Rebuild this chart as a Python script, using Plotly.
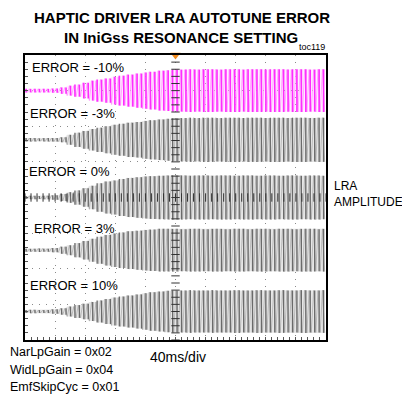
import numpy as np
import plotly.graph_objects as go

# ---------------- data ----------------
# time axis: 0..400 ms (40 ms/div, 10 div); envelope sampled every 10 ms
env_time_ms = list(range(0, 410, 10))
labels = ["ERROR = -10%", "ERROR = -3%", "ERROR = 0%", "ERROR = 3%", "ERROR = 10%"]
centers = [3.0, 1.62, 0.0, -1.48, -3.2]          # trace baselines (divisions)
env_m10 = [0.05, 0.05, 0.05, 0.05, 0.06, 0.09, 0.14, 0.17, 0.22, 0.28, 0.31, 0.34, 0.39, 0.42,
           0.45, 0.48, 0.51, 0.53, 0.56, 0.57, 0.59,
           0.59, 0.60, 0.59, 0.60, 0.60, 0.59, 0.60, 0.60, 0.59, 0.60, 0.60, 0.59, 0.60, 0.60,
           0.59, 0.60, 0.60, 0.59, 0.60, 0.60]
env_m3 = [0.05, 0.05, 0.04, 0.05, 0.05, 0.07, 0.14, 0.20, 0.25, 0.30, 0.34, 0.38, 0.42, 0.45,
          0.48, 0.50, 0.53, 0.55, 0.57, 0.59, 0.60,
          0.61, 0.62, 0.61, 0.62, 0.62, 0.61, 0.62, 0.62, 0.61, 0.62, 0.62, 0.61, 0.62, 0.62,
          0.61, 0.62, 0.62, 0.61, 0.62, 0.62]
env_0 = [0.04, 0.05, 0.04, 0.05, 0.06, 0.10, 0.15, 0.20, 0.26, 0.33, 0.40, 0.45, 0.48, 0.52,
         0.55, 0.57, 0.59, 0.60, 0.61, 0.62, 0.62,
         0.62, 0.61, 0.62, 0.62, 0.61, 0.62, 0.62, 0.61, 0.62, 0.62, 0.61, 0.62, 0.62, 0.61,
         0.62, 0.62, 0.61, 0.62, 0.62, 0.61]
env_p3 = [0.04, 0.04, 0.05, 0.04, 0.06, 0.10, 0.14, 0.20, 0.26, 0.32, 0.38, 0.43, 0.47, 0.50,
          0.53, 0.55, 0.57, 0.58, 0.60, 0.60, 0.60,
          0.59, 0.60, 0.60, 0.59, 0.60, 0.60, 0.59, 0.60, 0.60, 0.59, 0.60, 0.60, 0.59, 0.60,
          0.60, 0.59, 0.60, 0.60, 0.59, 0.60]
env_p10 = [0.04, 0.05, 0.04, 0.04, 0.06, 0.09, 0.14, 0.18, 0.22, 0.27, 0.31, 0.35, 0.39, 0.42,
           0.45, 0.48, 0.51, 0.54, 0.56, 0.58, 0.59,
           0.59, 0.60, 0.59, 0.59, 0.60, 0.59, 0.59, 0.60, 0.59, 0.59, 0.60, 0.59, 0.59, 0.60,
           0.59, 0.59, 0.60, 0.59, 0.59, 0.60]
envelopes = [env_m10, env_m3, env_0, env_p3, env_p10]
bar_colors = ["#ff2cff", "#6a6a6a", "#6a6a6a", "#6a6a6a", "#6a6a6a"]
wave_colors = ["#ff8cff", "#a8a8a8", "#a8a8a8", "#a8a8a8", "#a8a8a8"]
fills = ["rgba(255,200,255,0.30)", "#e6e6e6", "#e6e6e6", "#e6e6e6", "#e6e6e6"]
period_ms = 5.9               # LRA drive period (~170 Hz)
bottom_notes = ["NarLpGain = 0x02", "WidLpGain = 0x04", "EmfSkipCyc = 0x01"]

FONT = "Liberation Sans, Arial, sans-serif"

fig = go.Figure()

for k, (lab, c, env) in enumerate(zip(labels, centers, envelopes)):
    env = np.array(env)
    # half-cycle zigzag (step-held read envelope)
    t = np.arange(0, 400 + 1e-9, period_ms / 2)
    a = env[np.clip(np.round(t / 10).astype(int), 0, len(env) - 1)]
    sign = np.where(np.arange(len(t)) % 2 == 0, 1.0, -1.0)
    fig.add_trace(go.Scatter(x=np.concatenate([t, t[::-1]]),
                             y=np.concatenate([c + a, (c - a)[::-1]]),
                             fill="toself", fillcolor=fills[k], line=dict(width=0),
                             mode="lines", hoverinfo="skip", showlegend=False))
    fig.add_trace(go.Scatter(x=t, y=c + sign * a, mode="lines",
                             line=dict(color=wave_colors[k], width=0.7),
                             hoverinfo="skip", showlegend=False))
    # one vertical bar per cycle
    tb = np.arange(period_ms / 4, 400, period_ms)
    ab = env[np.clip(np.round(tb / 10).astype(int), 0, len(env) - 1)]
    bx = np.column_stack([tb, tb, np.full(len(tb), np.nan)]).ravel()
    by = np.column_stack([c + ab, c - ab, np.full(len(tb), np.nan)]).ravel()
    fig.add_trace(go.Scatter(x=bx, y=by, mode="lines", connectgaps=False,
                             line=dict(color=bar_colors[k], width=1.6 if k == 0 else 1.3),
                             name=lab, showlegend=False))

# center graticule ticks
ys = np.arange(-4, 4.001, 0.2)
fig.add_trace(go.Scatter(x=np.full(len(ys), 200.0), y=ys, mode="markers",
                         marker=dict(symbol="line-ew", size=6, line=dict(width=1, color="#333")),
                         hoverinfo="skip", showlegend=False))
xs = np.arange(0, 400.001, 8)
fig.add_trace(go.Scatter(x=xs, y=np.zeros(len(xs)), mode="markers",
                         marker=dict(symbol="line-ns", size=6, line=dict(width=1, color="#333")),
                         hoverinfo="skip", showlegend=False))
# trigger marker
fig.add_trace(go.Scatter(x=[200], y=[4.0], mode="markers", cliponaxis=False,
                         marker=dict(symbol="triangle-down", size=9, color="#f28a1c"),
                         hoverinfo="skip", showlegend=False))

# labels inside plot
lab_pos = [(6.6, 3.66), (4.0, 2.37), (2.7, 0.72), (9.3, -0.86), (4.0, -2.46)]
for lab, (lx, ly) in zip(labels, lab_pos):
    fig.add_annotation(x=lx, y=ly, text=lab, showarrow=False, xanchor="left", yanchor="middle",
                       font=dict(family=FONT, size=13, color="black"))

# outside texts
fig.add_annotation(xref="paper", yref="paper", x=0.522, y=1.133, text="<b>HAPTIC DRIVER LRA AUTOTUNE ERROR</b>",
                   showarrow=False, xanchor="center", yanchor="middle",
                   font=dict(family=FONT, size=15, color="black"))
fig.add_annotation(xref="paper", yref="paper", x=0.519, y=1.062, text="<b>IN IniGss RESONANCE SETTING</b>",
                   showarrow=False, xanchor="center", yanchor="middle",
                   font=dict(family=FONT, size=15, color="black"))
fig.add_annotation(xref="paper", yref="paper", x=1.003, y=1.027, text="toc119",
                   showarrow=False, xanchor="right", yanchor="middle",
                   font=dict(family=FONT, size=9, color="black"))
fig.add_annotation(xref="paper", yref="paper", x=1.02, y=0.512, text="LRA<br>AMPLITUDE",
                   showarrow=False, xanchor="left", yanchor="middle", align="left",
                   font=dict(family=FONT, size=12, color="black"))
for i, note in enumerate(bottom_notes):
    fig.add_annotation(xref="paper", yref="paper", x=-0.056, y=(340 - (352 + 17.5 * i)) / 285,
                       text=note, showarrow=False, xanchor="left", yanchor="middle",
                       font=dict(family=FONT, size=12.5, color="black"))
fig.add_annotation(xref="paper", yref="paper", x=0.409, y=(340 - 357) / 285, text="40ms/div",
                   showarrow=False, xanchor="left", yanchor="middle",
                   font=dict(family=FONT, size=14, color="black"))

axis_common = dict(showgrid=True, gridcolor="#8a8a8a", griddash="1px,6px", gridwidth=1,
                   zeroline=False, showline=True, linecolor="black", linewidth=2, mirror=True,
                   showticklabels=False, ticks="inside", ticklen=3, tickcolor="#555")
fig.update_xaxes(range=[0, 400], dtick=40, tick0=0,
                 minor=dict(dtick=8, ticks="inside", ticklen=3, tickcolor="#555", showgrid=False),
                 **axis_common)
fig.update_yaxes(range=[-4, 4], dtick=1, tick0=0,
                 minor=dict(dtick=0.2, ticks="inside", ticklen=3, tickcolor="#555", showgrid=False),
                 **axis_common)

fig.update_layout(width=402, height=395, margin=dict(l=25, r=76, t=55, b=55),
                  plot_bgcolor="white", paper_bgcolor="white", showlegend=False)

# remove the default 8px page margin so the figure fills the window exactly
fig.write_html("out.html", config={"displayModeBar": False},
               post_script="document.body.style.margin='0';document.body.style.overflow='hidden';")
